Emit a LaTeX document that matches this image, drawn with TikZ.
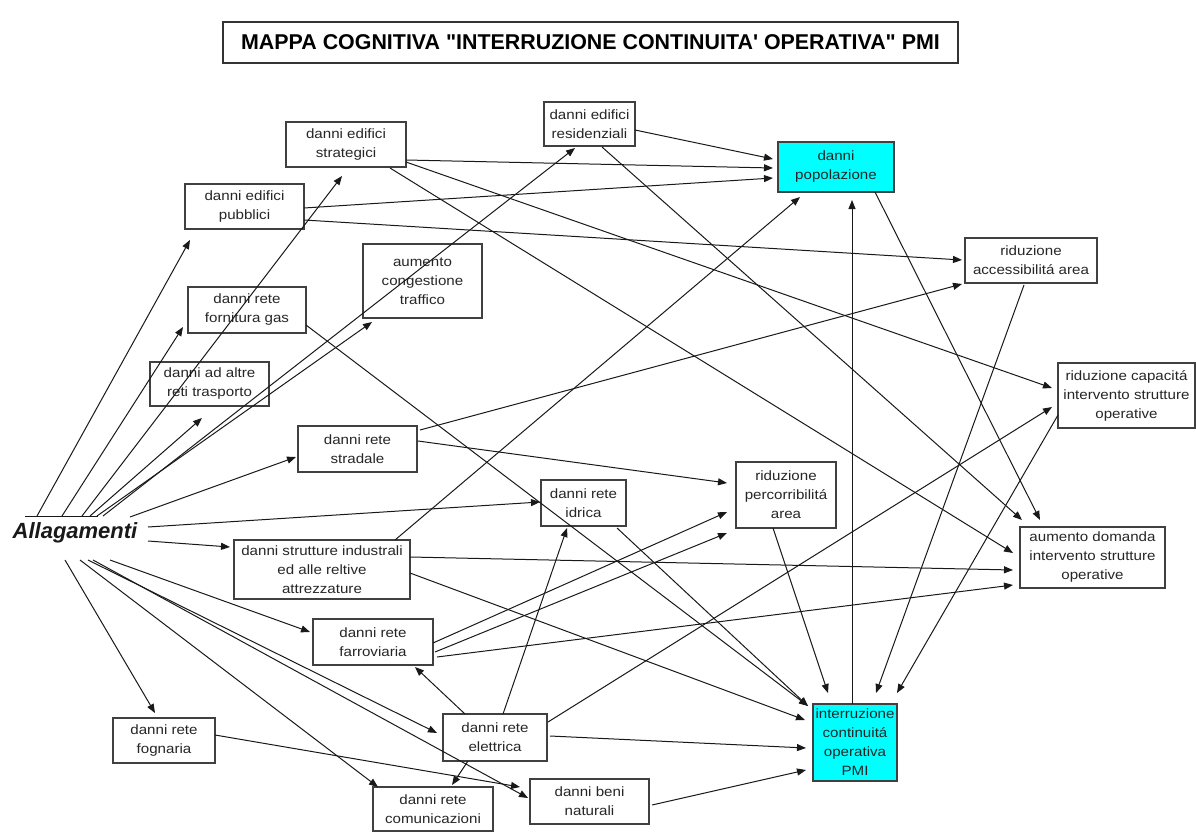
\documentclass[tikz,border=0pt]{standalone}
\usepackage{fontspec}
\setmainfont{Liberation Sans}[FakeStretch=1.12]
\newfontfamily\plainsans{Liberation Sans}
\usetikzlibrary{arrows.meta}
\definecolor{cyanbox}{RGB}{0,255,255}
\newcommand\conn[4]{\draw[arr] ([shift={(#2)}]#1.center) -- ([shift={(#4)}]#3.center);}
\begin{document}
\begin{tikzpicture}[x=1pt,y=-1pt,
  box/.style={draw=black!75,line width=1.1pt,fill=white,align=center,inner sep=1pt,
     text=black!85,font=\fontsize{13.5}{19}\selectfont},
  hot/.style={box,fill=cyanbox},
  arr/.style={draw=black!90,line width=1pt,-{Triangle[length=9pt,width=7pt]}},
  plain/.style={draw=black!90,line width=1pt}]
\useasboundingbox (0,0) rectangle (1196,832);
% title
\node[draw=black!80,line width=1.2pt,minimum width=735pt,minimum height=41pt,inner sep=0pt]
  (title) at (590.5,42.5) {\plainsans\fontsize{21.4}{24}\selectfont\bfseries MAPPA COGNITIVA "INTERRUZIONE CONTINUITA' OPERATIVA" PMI};
% source
\node[inner sep=0pt,text=black!90] (A) at (75,533) {\plainsans\fontsize{22}{26}\selectfont\bfseries\itshape Allagamenti};
% boxes
\node[box,minimum width=120pt,minimum height=45pt] (strat) at (346,144.5) {danni edifici\\strategici};
\node[box,minimum width=119pt,minimum height=45pt] (pubb) at (244.5,206.5) {danni edifici\\pubblici};
\node[box,minimum width=119pt,minimum height=74pt] (cong) at (422.5,281) {aumento\\congestione\\traffico};
\node[box,minimum width=118pt,minimum height=46pt] (gas) at (247,310) {danni rete\\fornitura gas};
\node[box,minimum width=119pt,minimum height=44pt] (altre) at (209.5,384) {danni ad altre\\reti trasporto};
\node[box,minimum width=91pt,minimum height=44pt] (resid) at (589.5,124) {danni edifici\\residenziali};
\node[hot,minimum width=116pt,minimum height=50pt] (pop) at (836,167) {danni\\popolazione};
\node[box,minimum width=132pt,minimum height=45pt] (access) at (1031,260.5) {riduzione\\accessibilitá area};
\node[box,minimum width=137pt,minimum height=65pt] (capac) at (1126.5,395.5) {riduzione capacitá\\intervento strutture\\operative};
\node[box,minimum width=145pt,minimum height=61pt] (domanda) at (1092.5,557.5) {aumento domanda\\intervento strutture\\operative};
\node[box,minimum width=119pt,minimum height=46pt] (strad) at (357.5,449) {danni rete\\stradale};
\node[box,minimum width=176pt,minimum height=59pt] (indus) at (322,569.5) {danni strutture industrali\\ed alle reltive\\attrezzature};
\node[box,minimum width=120pt,minimum height=46pt] (ferro) at (373,642) {danni rete\\farroviaria};
\node[box,minimum width=102pt,minimum height=45pt] (fogn) at (164,740.5) {danni rete\\fognaria};
\node[box,minimum width=120pt,minimum height=44pt] (comun) at (433,809) {danni rete\\comunicazioni};
\node[box,minimum width=104pt,minimum height=47pt] (elet) at (495,737.5) {danni rete\\elettrica};
\node[box,minimum width=119pt,minimum height=45pt] (beni) at (589.5,801.5) {danni beni\\naturali};
\node[box,minimum width=85pt,minimum height=46pt] (idrica) at (583.5,503) {danni rete\\idrica};
\node[box,minimum width=100pt,minimum height=66pt] (percorr) at (786,495) {riduzione\\percorribilitá\\area};
\node[hot,minimum width=84pt,minimum height=77pt] (interr) at (855,742.5) {interruzione\\continuitá\\operativa\\PMI};
% short line over the source
\draw[plain] ([shift={(-50,-17)}]A.center) -- ([shift={(23,-17)}]A.center);
% from Allagamenti
\conn{A}{-38,-17}{pubb}{-54.5,33.5}
\conn{A}{-13,-17}{gas}{-64,17}
\conn{A}{7,-17}{strat}{-4,31.5}
\conn{A}{15,-17}{altre}{-7.5,34}
\conn{A}{22,-17}{cong}{-50.5,41}
\conn{A}{28,-17}{resid}{-14.5,24}
\conn{A}{55,-16}{strad}{-61.5,8}
\conn{A}{73,-6}{idrica}{-43.5,-1}
\conn{A}{73,8}{indus}{-92,-22.5}
\conn{A}{-10,27}{fogn}{-9,-27.5}
\conn{A}{5,27}{comun}{-55,-22}
\conn{A}{13,27}{elet}{-58,-4.5}
\conn{A}{18,27}{beni}{-61.5,-3.5}
\conn{A}{35,27}{ferro}{-63,-10}
% into popolazione
\conn{resid}{45.5,6}{pop}{-63,-8}
\conn{strat}{60,15.5}{pop}{-63,1}
\conn{pubb}{59.5,1.5}{pop}{-63,11}
\conn{indus}{73,-29.5}{pop}{-36,30}
\conn{interr}{-3,-38.5}{pop}{16,33}
% others
\conn{strat}{60,17.5}{capac}{-74.5,-7.5}
\conn{strat}{44,23.5}{domanda}{-79.5,-4.5}
\conn{resid}{12.5,23}{domanda}{-70.5,-37.5}
\conn{pop}{39,25}{domanda}{-52.5,-37.5}
\conn{pubb}{59.5,13.5}{access}{-69,-0.5}
\conn{strad}{62.5,-19}{access}{-69,23.5}
\conn{strad}{60.5,-8}{percorr}{-59,-12}
\conn{gas}{59,15}{interr}{-47,-36.5}
\conn{indus}{88,-12.5}{domanda}{-79.5,12.5}
\conn{indus}{88,3.5}{interr}{-50,-22.5}
\conn{ferro}{60,1}{percorr}{-59,17}
\conn{ferro}{62,10}{percorr}{-59,38}
\conn{ferro}{64,15}{domanda}{-79.5,27.5}
\conn{elet}{-30,-23.5}{ferro}{42,25}
\conn{elet}{8,-23.5}{idrica}{-16.5,25}
\conn{elet}{53,-15.5}{capac}{-74.5,11.5}
\conn{elet}{55,-1.5}{interr}{-49,5.5}
\conn{elet}{-27,23.5}{comun}{19,-24}
\conn{fogn}{51,-5.5}{beni}{-69.5,-14.5}
\conn{beni}{62.5,3.5}{interr}{-49,27.5}
\conn{idrica}{33.5,25}{interr}{-47,-36.5}
\conn{percorr}{-13,33}{interr}{-27,-49.5}
\conn{access}{-7,24.5}{interr}{21,-49.5}
\conn{capac}{-68.5,19.5}{interr}{42,-49.5}
\end{tikzpicture}
\end{document}
